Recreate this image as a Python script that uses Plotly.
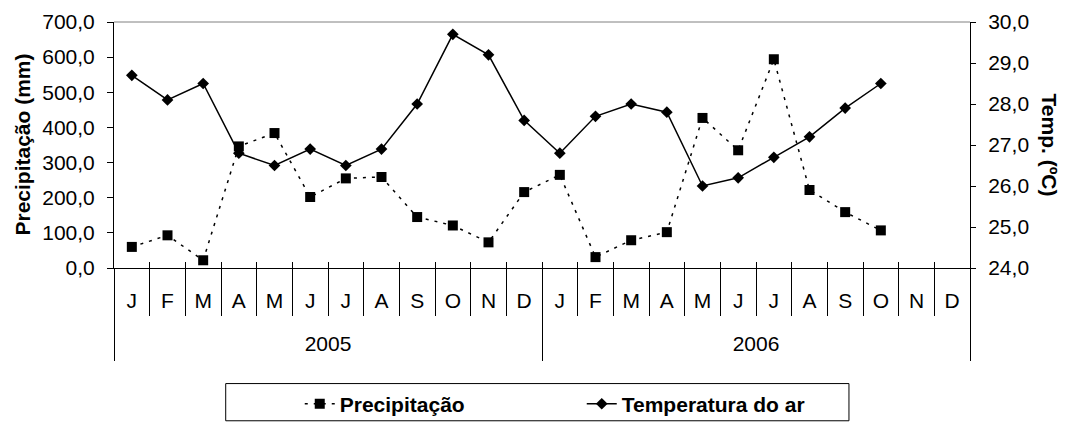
import plotly.graph_objects as go

months = ["J", "F", "M", "A", "M", "J", "J", "A", "S", "O", "N", "D",
          "J", "F", "M", "A", "M", "J", "J", "A", "S", "O", "N", "D"]
years = ["2005", "2006"]

# Precipitação (mm), Jan 2005 .. Oct 2006
precip = [60, 93, 22, 346, 384, 202, 255, 259, 145, 121, 73, 216,
          265, 31, 79, 102, 427, 335, 594, 222, 159, 107]
# Temperatura do ar (ºC)
temp = [28.7, 28.1, 28.5, 26.8, 26.5, 26.9, 26.5, 26.9, 28.0, 29.7, 29.2, 27.6,
        26.8, 27.7, 28.0, 27.8, 26.0, 26.2, 26.7, 27.2, 27.9, 28.5]

left_ticks = [0, 100, 200, 300, 400, 500, 600, 700]
right_ticks = [24, 25, 26, 27, 28, 29, 30]

n_cat = len(months)
cat_pos = list(range(n_cat))
bounds = [i - 0.5 for i in range(n_cat + 1)]
year_len = 12
year_centers = [k * year_len + (year_len - 1) / 2 for k in range(len(years))]
year_bounds = [k * year_len - 0.5 for k in range(len(years) + 1)]
xr = [-0.5, n_cat - 0.5]

FONT = "Liberation Sans, Arial, sans-serif"

fig = go.Figure()
fig.add_trace(go.Scatter(
    x=cat_pos[:len(precip)], y=precip, name="Precipitação",
    mode="lines+markers",
    line=dict(color="black", width=1.5, dash="3px,6px"),
    marker=dict(symbol="square", size=10, color="black"),
))
fig.add_trace(go.Scatter(
    x=cat_pos[:len(temp)], y=temp, name="Temperatura do ar", yaxis="y2",
    mode="lines+markers",
    line=dict(color="black", width=1.5),
    marker=dict(symbol="diamond", size=9, color="black"),
))
fig.add_trace(go.Scatter(x=[], y=[], xaxis="x2", showlegend=False, hoverinfo="skip"))
fig.add_trace(go.Scatter(x=[], y=[], xaxis="x3", showlegend=False, hoverinfo="skip"))

# The page body adds an 8px margin, so the figure is sized 1060x415
fig.update_layout(
    width=1060, height=415,
    margin=dict(l=106, r=98, t=14, b=155, pad=0, autoexpand=False),
    plot_bgcolor="white", paper_bgcolor="white",
    separators=",.",
    font=dict(family=FONT, size=21, color="black"),
    showlegend=True,
    xaxis=dict(
        range=xr, tickmode="array", tickvals=cat_pos, ticktext=months,
        ticks="outside", ticklen=14, tickcolor="rgba(0,0,0,0)",
        showline=True, linecolor="black", linewidth=1,
        showgrid=False, zeroline=False,
        minor=dict(tickmode="array", tickvals=bounds, ticks="outside",
                   ticklen=47, tickcolor="black", tickwidth=1, showgrid=False),
    ),
    xaxis2=dict(
        overlaying="x", anchor="y", side="bottom", range=xr,
        tickmode="array", tickvals=year_centers, ticktext=years,
        ticks="outside", ticklen=57, tickcolor="rgba(0,0,0,0)",
        showline=False, showgrid=False, zeroline=False,
        minor=dict(tickmode="array", tickvals=year_bounds, ticks="outside",
                   ticklen=92, tickcolor="black", tickwidth=1, showgrid=False),
    ),
    xaxis3=dict(
        overlaying="x", anchor="y", side="bottom", range=xr,
        tickmode="array", tickvals=bounds, showticklabels=False,
        ticks="inside", ticklen=6, tickcolor="black", tickwidth=1,
        showline=False, showgrid=False, zeroline=False,
    ),
    yaxis=dict(
        range=[0, 700], tickmode="array", tickvals=left_ticks, tickformat=".1f",
        ticks="outside", ticklen=6, tickcolor="black",
        showline=True, linecolor="black", linewidth=1,
        showgrid=False, zeroline=False, ticklabelstandoff=8,
    ),
    yaxis2=dict(
        overlaying="y", side="right", anchor="x", range=[24, 30],
        tickmode="array", tickvals=right_ticks, tickformat=".1f",
        ticks="outside", ticklen=5, tickcolor="black",
        showline=True, linecolor="black", linewidth=1,
        showgrid=False, zeroline=False, ticklabelstandoff=8,
    ),
    legend=dict(
        orientation="h", x=0.217, y=-0.47, xanchor="left", yanchor="top",
        borderwidth=0, bgcolor="rgba(0,0,0,0)",
        font=dict(family=FONT, size=21, color="black", weight="bold"),
        entrywidth=237, entrywidthmode="pixels",
    ),
    shapes=[
        dict(type="line", xref="paper", yref="paper", x0=0, x1=1, y0=1, y1=1,
             line=dict(color="#808080", width=1)),
        dict(type="rect", xref="paper", yref="paper",
             x0=0.1305, x1=0.8586, y0=-0.4698, y1=-0.621,
             line=dict(color="black", width=1), fillcolor="rgba(0,0,0,0)"),
    ],
    annotations=[
        dict(text="Precipitação (mm)", xref="paper", yref="paper",
             x=-0.108, y=0.5, xanchor="center", yanchor="middle",
             textangle=-90, showarrow=False,
             font=dict(family=FONT, size=21, color="black", weight="bold")),
        dict(text="Temp. (ºC)", xref="paper", yref="paper",
             x=1.094, y=0.5, xanchor="center", yanchor="middle",
             textangle=90, showarrow=False,
             font=dict(family=FONT, size=21, color="black", weight="bold")),
    ],
)

fig.write_html("out.html")
